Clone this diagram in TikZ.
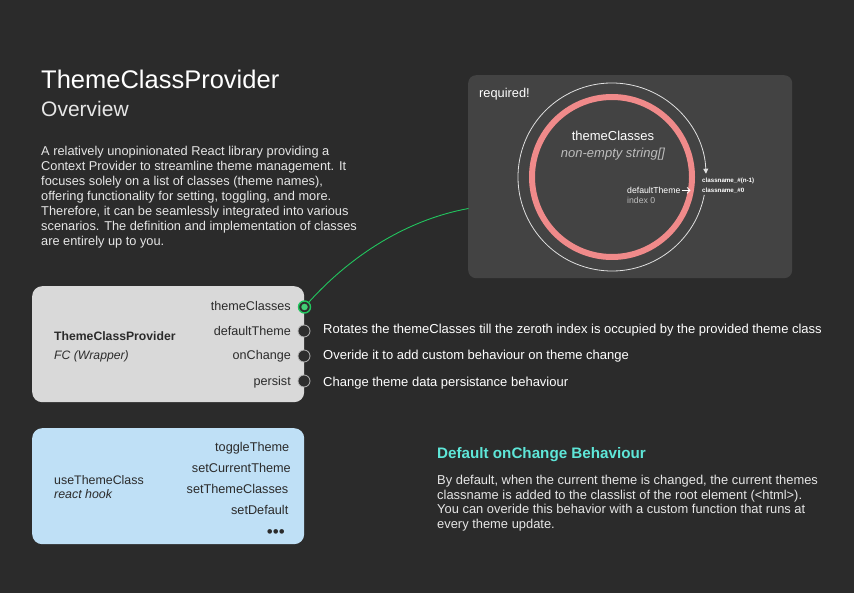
\documentclass[tikz,border=0pt]{standalone}
\usepackage{fontspec}
\setmainfont{Liberation Sans}
\usetikzlibrary{arrows.meta}
\definecolor{bg}{HTML}{2B2B2B}
\definecolor{panelc}{HTML}{434343}
\definecolor{ringc}{HTML}{F08A8A}
\definecolor{provc}{HTML}{D9D9D9}
\definecolor{hookc}{HTML}{BFE0F6}
\definecolor{cyanc}{HTML}{5EE6D8}
\definecolor{greenc}{HTML}{22C55E}
\definecolor{darktxt}{HTML}{2B2B2B}
\definecolor{lighttxt}{HTML}{E6E6E6}
\definecolor{greytxt}{HTML}{BDBDBD}
\definecolor{dotc}{HTML}{2E2E2E}
\definecolor{dotring}{HTML}{B5B5B5}
\begin{document}
\begin{tikzpicture}[x=1pt,y=-1pt,
  txt/.style={inner sep=0pt, text=white},
  para/.style={inner sep=0pt, text=lighttxt, align=left},
  boxc/.style={inner sep=0pt, rounded corners=10pt, minimum width=272pt, minimum height=116pt, anchor=north west},
  prop/.style={inner sep=0pt, text=darktxt, anchor=base east, font=\fontsize{12.6}{14}\selectfont},
  desc/.style={inner sep=0pt, text=white, anchor=base west, font=\fontsize{13}{15}\selectfont},
  portdot/.style={circle, inner sep=0pt, minimum size=12pt, fill=dotc, draw=dotring, line width=0.8pt},
  hookitem/.style={inner sep=0pt, text=darktxt, anchor=base east, font=\fontsize{12.7}{14}\selectfont}
]
\useasboundingbox (0,0) rectangle (854,593);
\fill[bg] (0,0) rectangle (854,593);

% heading
\node[txt, anchor=base west, font=\fontsize{25.5}{30}\selectfont] (title) at (41,89) {ThemeClassProvider};
\node[txt, anchor=base west, font=\fontsize{21}{25}\selectfont, text=lighttxt] (subtitle) at (41,117) {Overview};
\node[para, anchor=base west, font=\fontsize{12.8}{15}\selectfont] (intro) at (41,246) {A relatively unopinionated React library providing a\\Context Provider to streamline theme management. It\\focuses solely on a list of classes (theme names),\\offering functionality for setting, toggling, and more.\\Therefore, it can be seamlessly integrated into various\\scenarios. The definition and implementation of classes\\are entirely up to you.};

% panel
\node[inner sep=0pt, fill=panelc, rounded corners=8pt, minimum width=324pt, minimum height=203pt, anchor=north west] (panel) at (468,75) {};
\node[txt, anchor=base west, font=\fontsize{12.8}{14}\selectfont] (required) at (479,98) {required!};
\coordinate (rc) at (612,177);
\draw[ringc, line width=6pt] (rc) circle[radius=80];
\begin{scope}[shift={(612,177)}]
\begin{scope}[y=1pt]
\draw[white!88!black, line width=0.8pt, -{Triangle[width=5pt,length=5pt]}] (-11:94) arc[start angle=-11, end angle=-358, radius=94];
\end{scope}
\end{scope}
\node[txt, anchor=base, font=\fontsize{13}{15}\selectfont] (tcl) at (613,141) {themeClasses};
\node[txt, anchor=base, font=\fontsize{13}{15}\selectfont\itshape, text=greytxt] (tcltype) at (613,157.5) {non-empty string[]};
\node[txt, anchor=base west, font=\fontsize{8.7}{10}\selectfont] (dt) at (627,193.5) {defaultTheme};
\coordinate (dtarrow) at ([xshift=10pt]dt.east);
\draw[white, line width=0.8pt, -{Straight Barb[length=3pt,width=6pt]}] ([xshift=1pt]dt.east) -- (dtarrow);
\node[txt, anchor=base west, font=\fontsize{8.7}{10}\selectfont, text=greytxt] (idx) at (627,203.5) {index 0};
\node[txt, anchor=base west, font=\fontsize{6.2}{8}\selectfont\bfseries] (cnn) at (702,182.5) {classname\_\#(n-1)};
\node[txt, anchor=base west, font=\fontsize{6.2}{8}\selectfont\bfseries] (cn0) at (702,192.5) {classname\_\#0};

% provider box
\node[boxc, fill=provc] (prov) at (32,286) {};
\node[inner sep=0pt, text=darktxt, anchor=base west, font=\fontsize{12.2}{14}\selectfont\bfseries] (provname) at (54,340.5) {ThemeClassProvider};
\node[inner sep=0pt, text=darktxt, anchor=base west, font=\fontsize{12.2}{14}\selectfont\itshape] (provtype) at (54,359.5) {FC (Wrapper)};
\node[prop] (ptc) at (291,311) {themeClasses};
\node[prop] (pdt) at (291,335.5) {defaultTheme};
\node[prop] (poc) at (291,360) {onChange};
\node[prop] (pps) at (291,385.5) {persist};
\node[circle, inner sep=0pt, minimum size=12pt, fill=dotc, draw=greenc, line width=1.4pt] (dtc) at (304.5,307) {};
\node[circle, inner sep=0pt, minimum size=6.5pt, fill=greenc!85!white] (dtcin) at (304.5,307) {};
\node[portdot] (ddt) at (304,331) {};
\node[portdot] (doc) at (304,356) {};
\node[portdot] (dps) at (304,381) {};
\node[desc] (descdt) at (323,333.5) {Rotates the themeClasses till the zeroth index is occupied by the provided theme class};
\node[desc] (descoc) at (323,359.5) {Overide it to add custom behaviour on theme change};
\node[desc] (descps) at (323,386.5) {Change theme data persistance behaviour};

% connector
\coordinate (gend) at (468.5,208.5);
\draw[greenc, line width=0.9pt] (dtc) .. controls (345,262) and (400,221) .. (gend);

% hook box
\node[boxc, fill=hookc] (hook) at (32,428) {};
\node[inner sep=0pt, text=darktxt, anchor=base west, font=\fontsize{12.4}{14}\selectfont] (hookname) at (54,484.5) {useThemeClass};
\node[inner sep=0pt, text=darktxt, anchor=base west, font=\fontsize{12.4}{14}\selectfont\itshape] (hooktype) at (54,498.5) {react hook};
\node[hookitem] (h1) at (289.5,451.5) {toggleTheme};
\node[hookitem] (h2) at (291,472.5) {setCurrentTheme};
\node[hookitem] (h3) at (288.5,493.5) {setThemeClasses};
\node[hookitem] (h4) at (288.5,514.5) {setDefault};
\node[hookitem, font=\fontsize{17}{18}\selectfont] (h5) at (285,537) {•••};

% default onChange
\node[txt, anchor=base west, text=cyanc, font=\fontsize{15.2}{17}\selectfont\bfseries] (defhead) at (437,458.5) {Default onChange Behaviour};
\node[para, anchor=base west, font=\fontsize{12.9}{14.7}\selectfont] (defpara) at (437,528.5) {By default, when the current theme is changed, the current themes\\classname is added to the classlist of the root element (<html>).\\You can overide this behavior with a custom function that runs at\\every theme update.};
\end{tikzpicture}
\end{document}
